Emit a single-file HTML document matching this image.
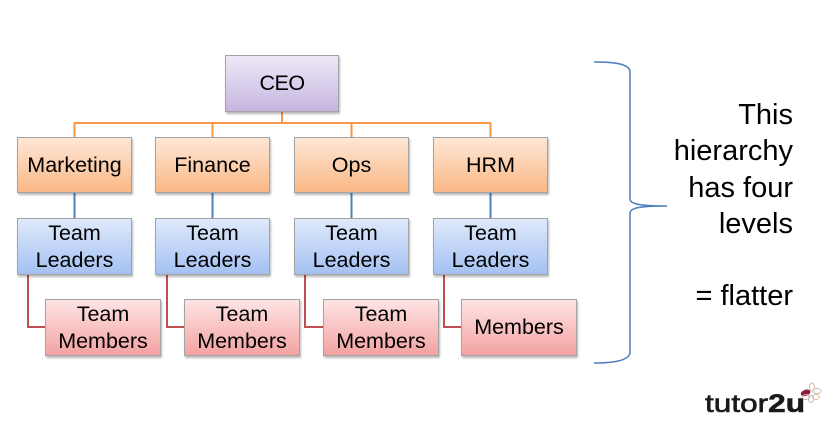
<!DOCTYPE html>
<html>
<head>
<meta charset="utf-8">
<style>
  html,body{margin:0;padding:0;background:#fff;}
  body{width:828px;height:430px;position:relative;overflow:hidden;font-family:"Liberation Sans",Arial,sans-serif;}
  .b{position:absolute;box-sizing:border-box;border:1px solid #a3a3a3;display:flex;align-items:center;justify-content:center;text-align:center;font-size:21.5px;line-height:27px;color:#000;box-shadow:1px 2px 2px rgba(0,0,0,0.28);}
  .ceo{background:linear-gradient(#eee9f7,#c6b6e0);}
  .o{background:linear-gradient(#fee7d6,#f9b886);}
  .bl{background:linear-gradient(#dfe9fb,#a4c1f2);}
  .r{background:linear-gradient(#fee4e4,#f3a2a2);}
  svg{position:absolute;left:0;top:0;}
</style>
</head>
<body>
<svg width="828" height="430" viewBox="0 0 828 430">
  <!-- orange connectors -->
  <g stroke="#f79646" stroke-width="2" fill="none">
    <line x1="282" y1="112" x2="282" y2="123"/>
    <line x1="74" y1="123" x2="491" y2="123"/>
    <line x1="74.5" y1="123" x2="74.5" y2="137"/>
    <line x1="212.5" y1="123" x2="212.5" y2="137"/>
    <line x1="351.5" y1="123" x2="351.5" y2="137"/>
    <line x1="490.5" y1="123" x2="490.5" y2="137"/>
  </g>
  <!-- blue connectors -->
  <g stroke="#4f81bd" stroke-width="2" fill="none">
    <line x1="74.5" y1="193" x2="74.5" y2="218"/>
    <line x1="212.5" y1="193" x2="212.5" y2="218"/>
    <line x1="351.5" y1="193" x2="351.5" y2="218"/>
    <line x1="490.5" y1="193" x2="490.5" y2="218"/>
  </g>
  <!-- red connectors -->
  <g stroke="#c0504d" stroke-width="2" fill="none">
    <polyline points="28,275 28,327 45,327"/>
    <polyline points="167,275 167,327 184,327"/>
    <polyline points="305,275 305,327 323,327"/>
    <polyline points="444,275 444,327 461,327"/>
  </g>
  <!-- brace -->
  <path d="M594,62 C615,62 630,64 630,72 L630,199 C630,205 645,206 667,206 C645,206 630,207 630,213 L630,352 C630,360 615,363 594,363" stroke="#4a7ebb" stroke-width="1.5" fill="none"/>
  <!-- right text -->
  <g font-family="Liberation Sans, Arial, sans-serif" font-size="29" fill="#000" text-anchor="end">
    <text x="793" y="124">This</text>
    <text x="793" y="160">hierarchy</text>
    <text x="793" y="197">has four</text>
    <text x="793" y="233">levels</text>
    <text x="793" y="305">= flatter</text>
  </g>
  <!-- logo -->
  <text x="705" y="412" font-family="Liberation Sans, Arial, sans-serif" font-size="25" fill="#1a1a1a" stroke="#1a1a1a" stroke-width="0.6" textLength="100" lengthAdjust="spacingAndGlyphs">tutor<tspan font-weight="bold">2u</tspan></text>
  <g transform="translate(811,393)">
    <ellipse cx="-5" cy="-2" rx="5" ry="3" fill="#8b1e3f" transform="rotate(-20)"/>
    <ellipse cx="1" cy="-6" rx="2.5" ry="4" fill="none" stroke="#d8b8a0" stroke-width="1"/>
    <ellipse cx="6" cy="-2" rx="4" ry="2.5" fill="none" stroke="#c8c0b0" stroke-width="1"/>
    <ellipse cx="5" cy="4" rx="3.5" ry="2.5" fill="none" stroke="#e0c090" stroke-width="1"/>
    <ellipse cx="0" cy="6" rx="2.5" ry="3.5" fill="none" stroke="#b8b8c8" stroke-width="1"/>
    <ellipse cx="-5" cy="4" rx="3.5" ry="2.5" fill="none" stroke="#d0b0b0" stroke-width="1"/>
  </g>
</svg>

<div class="b ceo" style="left:225px;top:55px;width:114px;height:57px;letter-spacing:-0.5px;">CEO</div>

<div class="b o" style="left:17px;top:137px;width:115px;height:56px;">Marketing</div>
<div class="b o" style="left:155px;top:137px;width:115px;height:56px;">Finance</div>
<div class="b o" style="left:294px;top:137px;width:115px;height:56px;">Ops</div>
<div class="b o" style="left:433px;top:137px;width:115px;height:56px;">HRM</div>

<div class="b bl" style="left:17px;top:218px;width:115px;height:57px;">Team<br>Leaders</div>
<div class="b bl" style="left:155px;top:218px;width:115px;height:57px;">Team<br>Leaders</div>
<div class="b bl" style="left:294px;top:218px;width:115px;height:57px;">Team<br>Leaders</div>
<div class="b bl" style="left:433px;top:218px;width:115px;height:57px;">Team<br>Leaders</div>

<div class="b r" style="left:45px;top:299px;width:116px;height:57px;">Team<br>Members</div>
<div class="b r" style="left:184px;top:299px;width:116px;height:57px;">Team<br>Members</div>
<div class="b r" style="left:323px;top:299px;width:116px;height:57px;">Team<br>Members</div>
<div class="b r" style="left:461px;top:299px;width:116px;height:57px;">Members</div>
</body>
</html>
